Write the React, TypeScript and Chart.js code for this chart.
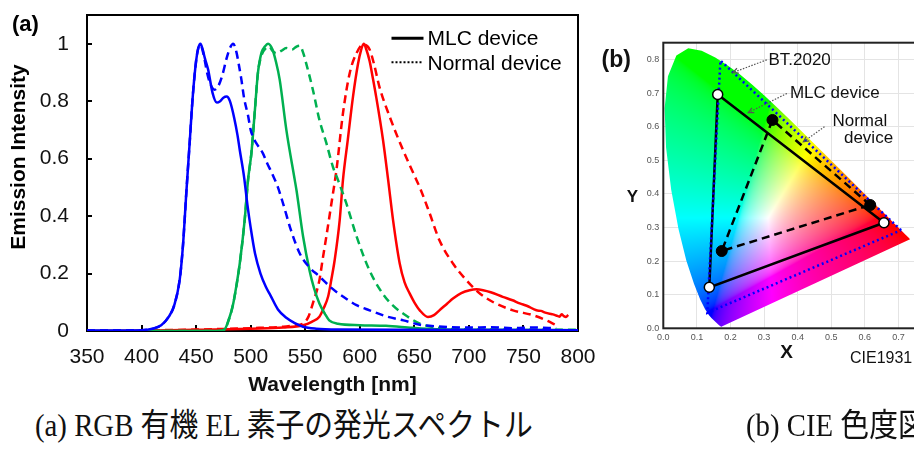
import React, { useEffect, useRef } from 'react';
import { Chart, registerables } from 'chart.js';
Chart.register(...registerables);

type P = [number, number];

// ---------- Panel (a): emission spectra ----------
const WL_MIN = 350;
const WL_MAX = 800;
const WL_STEP = 50;
const INT_MIN = 0;
const INT_MAX = 1.1;
const INT_STEP = 0.2;

const blueMLC: P[] = [
  [350, 0.002], [380, 0.002], [400, 0.003], [410, 0.008], [418, 0.02], [425, 0.05], [430, 0.09],
  [435, 0.18], [438, 0.3], [441, 0.48], [444, 0.65], [447, 0.82], [450, 0.94], [452, 0.985],
  [454, 1.0], [456, 0.98], [458, 0.95], [461, 0.91], [465, 0.83], [469, 0.795], [472, 0.8],
  [475, 0.812], [478, 0.816], [481, 0.8], [485, 0.74], [488, 0.68], [490, 0.63], [494, 0.535],
  [497, 0.44], [500, 0.36], [504, 0.27], [509, 0.2], [514, 0.153], [518, 0.125], [525, 0.075],
  [533, 0.045], [540, 0.028], [548, 0.015], [560, 0.008], [580, 0.005], [650, 0.004], [800, 0.003],
];
const blueNormal: P[] = [
  [350, 0.002], [380, 0.002], [400, 0.003], [410, 0.008], [418, 0.02], [425, 0.05], [430, 0.09],
  [435, 0.18], [438, 0.3], [441, 0.48], [444, 0.65], [447, 0.82], [450, 0.94], [452, 0.985],
  [454, 0.995], [457, 0.96], [460, 0.9], [463, 0.86], [467, 0.84], [470, 0.85], [474, 0.89],
  [478, 0.95], [481, 0.985], [484, 1.0], [487, 0.97], [489, 0.93], [491.5, 0.875], [494, 0.81],
  [497.6, 0.75], [500, 0.7], [502, 0.677], [505, 0.655], [511, 0.62], [515, 0.585], [520, 0.545],
  [525, 0.5], [530, 0.44], [537, 0.35], [545, 0.27], [553, 0.225], [563, 0.19], [574, 0.15],
  [585, 0.119], [597, 0.09], [609, 0.072], [625, 0.05], [640, 0.037], [655, 0.022], [670, 0.016],
  [700, 0.012], [720, 0.013], [740, 0.01], [760, 0.012], [780, 0.01],
];
const greenMLC: P[] = [
  [350, 0.0], [470, 0.0], [476, 0.005], [480, 0.04], [484, 0.095], [487, 0.16], [490, 0.235],
  [494.5, 0.386], [497.6, 0.526], [500.7, 0.62], [503.7, 0.76], [506.7, 0.9], [510, 0.97],
  [513, 0.99], [516, 1.0], [520, 0.98], [523, 0.94], [526.6, 0.875], [532.7, 0.7], [540.4, 0.526],
  [542, 0.49], [548, 0.33], [554, 0.21], [558, 0.15], [563, 0.096], [568, 0.06], [572, 0.037],
  [580, 0.025], [600, 0.02], [624, 0.018], [648, 0.011], [670, 0.006], [700, 0.004], [800, 0.003],
];
const greenNormal: P[] = [
  [350, 0.0], [470, 0.0], [476, 0.005], [480, 0.04], [484, 0.095], [490, 0.235], [494.5, 0.386],
  [497.6, 0.526], [500.7, 0.62], [503.7, 0.76], [506.7, 0.9], [510, 0.96], [514, 0.985],
  [517, 0.99], [520, 0.975], [523.6, 0.967], [528, 0.975], [532.7, 0.985], [538, 0.98],
  [542, 0.99], [545, 0.993], [548, 0.97], [551, 0.93], [557, 0.84], [563, 0.735], [569.4, 0.654],
  [575.5, 0.57], [580, 0.526], [587.7, 0.444], [597, 0.33], [609, 0.21], [621, 0.13], [630, 0.09],
  [640, 0.06], [655, 0.026], [670, 0.012], [700, 0.006], [800, 0.004],
];
const redMLC: P[] = [
  [350, 0.0], [400, 0.001], [450, 0.004], [500, 0.008], [530, 0.012], [548, 0.02], [556, 0.032],
  [563, 0.05], [567, 0.08], [571, 0.12], [574, 0.18], [577, 0.247], [581.6, 0.386], [584.6, 0.526],
  [589, 0.665], [593.8, 0.816], [598.4, 0.93], [601, 0.975], [603.6, 1.0], [606, 0.98], [609, 0.94],
  [612, 0.88], [615, 0.816], [621.3, 0.665], [626, 0.526], [630.5, 0.386], [636.6, 0.235],
  [641, 0.17], [645.8, 0.13], [650, 0.1], [655, 0.072], [662.5, 0.049], [668, 0.055], [673, 0.072],
  [680, 0.095], [685.4, 0.113], [693, 0.132], [700.7, 0.142], [707, 0.145], [713, 0.142],
  [720, 0.135], [731, 0.119], [740, 0.107], [746.6, 0.096], [753, 0.088], [761.9, 0.072],
  [766, 0.07], [770, 0.064], [774, 0.06], [777, 0.058], [780, 0.054], [783, 0.05], [785, 0.058],
  [787, 0.052], [789, 0.049], [791, 0.056],
];
const redNormal: P[] = [
  [350, 0.0], [400, 0.002], [450, 0.005], [500, 0.01], [530, 0.015], [540, 0.02], [548, 0.026],
  [553, 0.05], [557, 0.096], [563, 0.177], [566, 0.25], [569.4, 0.33], [574, 0.444], [578.6, 0.56],
  [584.6, 0.758], [590.8, 0.898], [597, 0.967], [603, 0.997], [609, 0.98], [613, 0.93], [618, 0.85],
  [627.4, 0.746], [639.6, 0.63], [651.9, 0.526], [655, 0.5], [664, 0.41], [673, 0.316],
  [685.4, 0.235], [697.7, 0.177], [708.4, 0.136], [722, 0.101], [740.4, 0.072], [758.7, 0.055],
  [771, 0.037], [780, 0.02],
];

const legendLabels = ['MLC device', 'Normal device'];

// ---------- Panel (b): CIE 1931 chromaticity ----------
const CIE_X_MAX = 0.8;
const CIE_Y_MAX = 0.85;
const CIE_STEP = 0.1;

const spectralLocus: P[] = [
  [0.1741, 0.005], [0.1738, 0.0049], [0.1733, 0.0048], [0.1726, 0.0048], [0.1714, 0.0051],
  [0.1689, 0.0069], [0.1644, 0.0109], [0.1566, 0.0177], [0.144, 0.0297], [0.1355, 0.0399],
  [0.1241, 0.0578], [0.1096, 0.0868], [0.0913, 0.1327], [0.0687, 0.2007], [0.0454, 0.295],
  [0.0235, 0.4127], [0.0082, 0.5384], [0.0039, 0.6548], [0.0139, 0.7502], [0.0389, 0.812],
  [0.0743, 0.8338], [0.1142, 0.8262], [0.1547, 0.8059], [0.1929, 0.7816], [0.2296, 0.7543],
  [0.2658, 0.7243], [0.3016, 0.6923], [0.3373, 0.6589], [0.3731, 0.6245], [0.4087, 0.5896],
  [0.4441, 0.5547], [0.4788, 0.5202], [0.5125, 0.4866], [0.5448, 0.4544], [0.5752, 0.4242],
  [0.6029, 0.3965], [0.627, 0.3725], [0.6482, 0.3514], [0.6658, 0.334], [0.6801, 0.3197],
  [0.6915, 0.3083], [0.7006, 0.2993], [0.7079, 0.292], [0.714, 0.2859], [0.719, 0.2809],
  [0.723, 0.277], [0.726, 0.274], [0.7283, 0.2717], [0.73, 0.27], [0.7347, 0.2653],
];
const bt2020Gamut: P[] = [[0.708, 0.292], [0.17, 0.797], [0.131, 0.046]];
const mlcGamut: P[] = [[0.657, 0.314], [0.162, 0.696], [0.137, 0.122]];
const normalGamut: P[] = [[0.616, 0.367], [0.325, 0.62], [0.174, 0.23]];

// annotation texts (data coordinates): [label, x, baselineY, align]
const annotationTexts: [string, number, number, CanvasTextAlign][] = [
  ['BT.2020', 0.313, 0.7836, 'left'],
  ['MLC device', 0.377, 0.6863, 'left'],
  ['Normal', 0.585, 0.602, 'center'],
  ['device', 0.611, 0.552, 'center'],
];
// annotation arrows: [tailX, tailY, tipX, tipY]
const annotationArrows: [number, number, number, number][] = [
  [0.308, 0.799, 0.207, 0.761],
  [0.368, 0.699, 0.253, 0.642],
  [0.48, 0.6, 0.417, 0.555],
];

const captionA = '(a) RGB 有機 EL 素子の発光スペクトル';
const captionB = '(b) CIE 色度図';

const SANS = '"Liberation Sans", Arial, sans-serif';

const toXY = (arr: P[]) => arr.map(([x, y]) => ({ x, y }));

function SpectraChart() {
  const ref = useRef<HTMLCanvasElement>(null);
  useEffect(() => {
    if (!ref.current) return;
    const line = (label: string, arr: P[], color: string, dashed: boolean) => ({
      label,
      data: toXY(arr),
      borderColor: color,
      backgroundColor: color,
      borderWidth: 2.5,
      borderDash: dashed ? [8, 5] : [],
      pointRadius: 0,
      cubicInterpolationMode: 'monotone' as const,
      fill: false,
    });
    const framePlugin = {
      id: 'frameA',
      beforeDatasetsDraw(chart: any) {
        const { ctx, chartArea: a, scales } = chart;
        ctx.save();
        ctx.strokeStyle = '#000';
        ctx.lineWidth = 2;
        ctx.strokeRect(a.left, a.top, a.right - a.left, a.bottom - a.top);
        ctx.lineWidth = 2;
        ctx.beginPath();
        for (let t = WL_MIN + WL_STEP; t < WL_MAX; t += WL_STEP) {
          const px = Math.round(scales.x.getPixelForValue(t));
          ctx.moveTo(px, a.bottom);
          ctx.lineTo(px, a.bottom - 6);
        }
        for (let v = INT_STEP; v <= 1.0001; v += INT_STEP) {
          const py = Math.round(scales.y.getPixelForValue(v));
          ctx.moveTo(a.left, py);
          ctx.lineTo(a.left + 5, py);
        }
        ctx.stroke();
        ctx.restore();
      },
      afterDraw(chart: any) {
        const { ctx, chartArea: a } = chart;
        ctx.save();
        // panel label
        ctx.fillStyle = '#000';
        ctx.font = `bold 22px ${SANS}`;
        ctx.textAlign = 'left';
        ctx.textBaseline = 'alphabetic';
        ctx.fillText('(a)', 12, 31);
        // y title
        ctx.save();
        ctx.translate(19.5, a.top + 142);
        ctx.rotate(-Math.PI / 2);
        ctx.font = `bold 21px ${SANS}`;
        ctx.textAlign = 'center';
        ctx.textBaseline = 'middle';
        ctx.fillText('Emission Intensity', 0, 0);
        ctx.restore();
        // legend
        const lx = a.left + 304.5;
        const ly = a.top + 23.3;
        ctx.strokeStyle = '#000';
        ctx.lineWidth = 3;
        ctx.beginPath();
        ctx.moveTo(lx, ly);
        ctx.lineTo(lx + 32, ly);
        ctx.stroke();
        ctx.lineWidth = 2;
        ctx.setLineDash([2, 2]);
        ctx.beginPath();
        ctx.moveTo(lx, ly + 24);
        ctx.lineTo(lx + 32, ly + 24);
        ctx.stroke();
        ctx.setLineDash([]);
        ctx.font = `21px ${SANS}`;
        ctx.textAlign = 'left';
        ctx.textBaseline = 'alphabetic';
        ctx.fillText(legendLabels[0], lx + 36, ly + 7);
        ctx.fillText(legendLabels[1], lx + 36, ly + 31.5);
        ctx.restore();
      },
    };
    const zeroPad = (s: any) => {
      s.paddingTop = 0;
      s.paddingBottom = 0;
      s.paddingLeft = 0;
      s.paddingRight = 0;
    };
    const chart = new Chart(ref.current, {
      type: 'line',
      data: {
        datasets: [
          line('Blue MLC', blueMLC, '#0000ff', false),
          line('Blue Normal', blueNormal, '#0000ff', true),
          line('Green MLC', greenMLC, '#00b050', false),
          line('Green Normal', greenNormal, '#00b050', true),
          line('Red MLC', redMLC, '#ff0000', false),
          line('Red Normal', redNormal, '#ff0000', true),
        ] as any,
      },
      options: {
        responsive: false,
        animation: false,
        layout: { padding: { left: 0, top: 15, right: 22, bottom: 0 } },
        plugins: { legend: { display: false }, tooltip: { enabled: false } },
        scales: {
          x: {
            type: 'linear',
            min: WL_MIN,
            max: WL_MAX,
            ticks: { stepSize: WL_STEP, color: '#111', font: { family: SANS, size: 21 }, padding: 14 },
            grid: { display: false, drawTicks: false },
            border: { display: false },
            title: {
              display: true,
              text: 'Wavelength [nm]',
              color: '#111',
              font: { family: SANS, size: 21, weight: 'bold' },
              padding: { top: 0, bottom: 2 },
            },
            afterFit: (s: any) => { s.height = 69; zeroPad(s); },
          },
          y: {
            type: 'linear',
            min: INT_MIN,
            max: INT_MAX,
            ticks: {
              stepSize: INT_STEP,
              includeBounds: false,
              color: '#111',
              font: { family: SANS, size: 21 },
              padding: 18,
              callback: (v: any) => String(Math.round(Number(v) * 10) / 10),
            },
            grid: { display: false, drawTicks: false },
            border: { display: false },
            afterFit: (s: any) => { s.width = 87; zeroPad(s); },
          },
        },
      } as any,
      plugins: [framePlugin],
    });
    return () => chart.destroy();
  }, []);
  return <canvas ref={ref} width={600} height={400} style={{ position: 'absolute', left: 0, top: 0, width: 600, height: 400 }} />;
}

function xyToRgb(x: number, y: number): [number, number, number] {
  const yy = Math.max(y, 0.002);
  const X = x / yy;
  const Y = 1;
  const Z = (1 - x - yy) / yy;
  let r = 3.2406 * X - 1.5372 * Y - 0.4986 * Z;
  let g = -0.9689 * X + 1.8758 * Y + 0.0415 * Z;
  let b = 0.0557 * X - 0.204 * Y + 1.057 * Z;
  r = Math.max(r, 0);
  g = Math.max(g, 0);
  b = Math.max(b, 0);
  const m = Math.max(r, g, b, 1e-6);
  const gam = (c: number) => (c <= 0.0031308 ? 12.92 * c : 1.055 * Math.pow(c, 1 / 2.4) - 0.055);
  return [gam(r / m) * 255, gam(g / m) * 255, gam(b / m) * 255];
}

function CieChart() {
  const ref = useRef<HTMLCanvasElement>(null);
  useEffect(() => {
    if (!ref.current) return;
    const closed = (arr: P[]) => toXY([...arr, arr[0]]);
    const cieFill = {
      id: 'cieFill',
      beforeDatasetsDraw(chart: any) {
        const { ctx, chartArea: a, scales } = chart;
        const sx = scales.x;
        const sy = scales.y;
        const w = Math.ceil(a.right - a.left);
        const h = Math.ceil(a.bottom - a.top);
        const off = document.createElement('canvas');
        off.width = w;
        off.height = h;
        const octx = off.getContext('2d')!;
        const img = octx.createImageData(w, h);
        for (let j = 0; j < h; j++) {
          const cy = sy.getValueForPixel(a.top + j + 0.5);
          for (let i = 0; i < w; i++) {
            const cx = sx.getValueForPixel(a.left + i + 0.5);
            const [r, g, b] = xyToRgb(cx, cy);
            const k = (j * w + i) * 4;
            img.data[k] = r;
            img.data[k + 1] = g;
            img.data[k + 2] = b;
            img.data[k + 3] = 255;
          }
        }
        octx.putImageData(img, 0, 0);
        ctx.save();
        ctx.beginPath();
        spectralLocus.forEach((p, k) => {
          const px = sx.getPixelForValue(p[0]);
          const py = sy.getPixelForValue(p[1]);
          if (k === 0) ctx.moveTo(px, py);
          else ctx.lineTo(px, py);
        });
        ctx.closePath();
        ctx.clip();
        ctx.drawImage(off, a.left, a.top);
        ctx.restore();
        ctx.save();
        ctx.strokeStyle = '#222';
        ctx.lineWidth = 2;
        ctx.strokeRect(a.left, a.top, a.right - a.left, a.bottom - a.top);
        ctx.restore();
      },
      afterDraw(chart: any) {
        const { ctx, chartArea: a, scales } = chart;
        const sx = scales.x;
        const sy = scales.y;
        ctx.save();
        // annotation arrows
        ctx.strokeStyle = '#555';
        ctx.fillStyle = '#555';
        ctx.lineWidth = 1.2;
        annotationArrows.forEach(([x0, y0, x1, y1]) => {
          const px0 = sx.getPixelForValue(x0);
          const py0 = sy.getPixelForValue(y0);
          const px1 = sx.getPixelForValue(x1);
          const py1 = sy.getPixelForValue(y1);
          ctx.setLineDash([1.5, 1.5]);
          ctx.beginPath();
          ctx.moveTo(px0, py0);
          ctx.lineTo(px1, py1);
          ctx.stroke();
          ctx.setLineDash([]);
          const ang = Math.atan2(py1 - py0, px1 - px0);
          ctx.beginPath();
          ctx.moveTo(px1 - 6 * Math.cos(ang - 0.45), py1 - 6 * Math.sin(ang - 0.45));
          ctx.lineTo(px1, py1);
          ctx.lineTo(px1 - 6 * Math.cos(ang + 0.45), py1 - 6 * Math.sin(ang + 0.45));
          ctx.stroke();
        });
        // annotation texts
        ctx.fillStyle = '#111';
        ctx.font = `17px ${SANS}`;
        ctx.textBaseline = 'alphabetic';
        annotationTexts.forEach(([t, x, y, al]) => {
          ctx.textAlign = al;
          ctx.fillText(t, sx.getPixelForValue(x), sy.getPixelForValue(y));
        });
        // panel label & axis titles
        ctx.textAlign = 'left';
        ctx.font = `bold 23px ${SANS}`;
        ctx.fillText('(b)', 6.5, 67);
        ctx.textAlign = 'center';
        ctx.font = `bold 17px ${SANS}`;
        ctx.fillText('Y', 37.5, 201.7);
        ctx.font = `bold 19px ${SANS}`;
        ctx.fillText('X', (a.left + a.right) / 2 - 11, a.bottom + 29.4);
        ctx.textAlign = 'left';
        ctx.font = `16px ${SANS}`;
        ctx.fillText('CIE1931', 255, a.bottom + 35);
        ctx.restore();
      },
    };
    const chart = new Chart(ref.current, {
      type: 'scatter',
      data: {
        datasets: [
          {
            label: 'MLC points',
            data: toXY(mlcGamut),
            pointRadius: 5,
            pointBackgroundColor: '#fff',
            pointBorderColor: '#000',
            pointBorderWidth: 1.5,
            showLine: false,
          },
          {
            label: 'Normal points',
            data: toXY(normalGamut),
            pointRadius: 5.5,
            pointBackgroundColor: '#000',
            pointBorderColor: '#000',
            pointBorderWidth: 1,
            showLine: false,
          },
          {
            label: 'BT.2020',
            data: closed(bt2020Gamut),
            showLine: true,
            borderColor: '#0000ff',
            borderWidth: 2.5,
            borderDash: [2, 3],
            pointRadius: 0,
          },
          {
            label: 'MLC device',
            data: closed(mlcGamut),
            showLine: true,
            borderColor: '#000',
            borderWidth: 2.5,
            pointRadius: 0,
          },
          {
            label: 'Normal device',
            data: closed(normalGamut),
            showLine: true,
            borderColor: '#000',
            borderWidth: 2.5,
            borderDash: [8, 5],
            pointRadius: 0,
          },
        ] as any,
      },
      options: {
        responsive: false,
        animation: false,
        layout: { padding: { left: 0, top: 42.7, right: 23, bottom: 30 } },
        plugins: { legend: { display: false }, tooltip: { enabled: false } },
        scales: {
          x: {
            type: 'linear',
            min: 0,
            max: CIE_X_MAX,
            ticks: {
              stepSize: CIE_STEP,
              color: '#555',
              font: { family: SANS, size: 9 },
              padding: 4,
              callback: (v: any) => Number(v).toFixed(1),
            },
            grid: { color: '#e4e4e4', lineWidth: 1, drawTicks: false },
            border: { display: false },
            afterFit: (s: any) => { s.height = 41.7; },
          },
          y: {
            type: 'linear',
            min: 0,
            max: CIE_Y_MAX,
            ticks: {
              stepSize: CIE_STEP,
              includeBounds: false,
              color: '#555',
              font: { family: SANS, size: 9 },
              padding: 4,
              callback: (v: any) => Number(v).toFixed(1),
            },
            grid: { color: '#e4e4e4', lineWidth: 1, drawTicks: false },
            border: { display: false },
            afterFit: (s: any) => { s.width = 68.3; },
          },
        },
      } as any,
      plugins: [cieFill],
    });
    return () => chart.destroy();
  }, []);
  return <canvas ref={ref} width={360} height={400} style={{ position: 'absolute', left: 595, top: 0, width: 360, height: 400 }} />;
}

export default function App() {
  const capStyle: React.CSSProperties = {
    position: 'absolute',
    top: 406,
    fontFamily: '"Liberation Serif", "Noto Sans CJK JP", serif',
    fontSize: 32,
    lineHeight: '38px',
    whiteSpace: 'nowrap',
    color: '#111',
    transform: 'scaleX(0.9)',
    transformOrigin: 'left top',
  };
  return (
    <div style={{ position: 'fixed', left: 0, top: 0, width: 914, height: 450, overflow: 'hidden', background: '#fff' }}>
      <SpectraChart />
      <CieChart />
      <div style={{ ...capStyle, left: 35 }}>{captionA}</div>
      <div style={{ ...capStyle, left: 746 }}>{captionB}</div>
    </div>
  );
}
